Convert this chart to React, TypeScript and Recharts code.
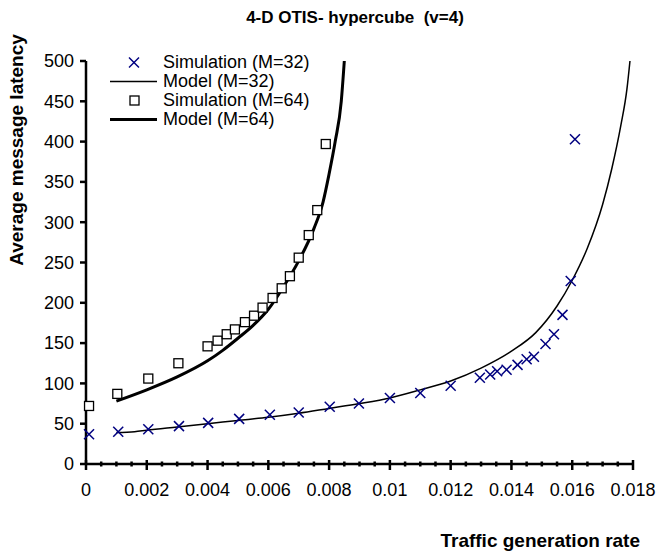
import React from 'react';
import { ComposedChart, Line, Scatter, XAxis, YAxis } from 'recharts';

const FONT = '"Liberation Sans", Arial, sans-serif';

// Simulation M=32 (x markers)
const sim32X = [0.0001, 0.00106, 0.00205, 0.00306, 0.00402, 0.00504, 0.00605, 0.007, 0.00802, 0.00898, 0.0100, 0.0110, 0.0120, 0.01296, 0.0133, 0.01353, 0.01384, 0.0142, 0.0145, 0.01474, 0.01512, 0.0154, 0.01568, 0.01595, 0.01609];
const sim32Y = [37, 40, 43, 47, 51, 56, 61, 64, 71, 75, 82, 88, 97, 107, 111, 115, 117, 123, 130, 133, 149, 161, 185, 227, 403];

// Model M=32 (thin line)
const model32X = [0.001, 0.0016, 0.002, 0.003, 0.004, 0.005, 0.006, 0.007, 0.008, 0.009, 0.010, 0.011, 0.012, 0.013, 0.014, 0.0148, 0.0155, 0.016, 0.0165, 0.017, 0.0173, 0.0176, 0.0178, 0.0179];
const model32Y = [39, 40, 42, 46, 50, 54, 58, 63, 69, 75, 82, 92, 103, 119, 140, 163, 196, 228, 268, 322, 366, 420, 465, 500];

// Simulation M=64 (squares)
const sim64X = [0.0001, 0.00103, 0.00205, 0.00304, 0.004, 0.00433, 0.00463, 0.0049, 0.00523, 0.00553, 0.00581, 0.00614, 0.00644, 0.00671, 0.007, 0.00733, 0.00761, 0.00789];
const sim64Y = [72, 87, 106, 125, 146, 153, 161, 167, 176, 184, 194, 206, 218, 233, 256, 284, 315, 397];

// Model M=64 (thick line)
const model64X = [0.001, 0.002, 0.003, 0.004, 0.0045, 0.005, 0.0055, 0.006, 0.0065, 0.007, 0.0075, 0.0078, 0.008, 0.0082, 0.0084, 0.0085];
const model64Y = [78, 92, 108, 128, 141, 156, 172, 192, 220, 252, 292, 325, 360, 400, 450, 500];

const xTickLabels = ['0', '0.002', '0.004', '0.006', '0.008', '0.01', '0.012', '0.014', '0.016', '0.018'];
const yTicks = [0, 50, 100, 150, 200, 250, 300, 350, 400, 450, 500];

const zip = (xs: number[], ys: number[]) => xs.map((x, i) => ({ x, y: ys[i] }));
const sim32 = zip(sim32X, sim32Y);
const model32 = zip(model32X, model32Y);
const sim64 = zip(sim64X, sim64Y);
const model64 = zip(model64X, model64Y);

const xMinorTicks = Array.from({ length: 37 }, (_, i) => i * 0.0005);

const XMarker = (props: any) => {
  const { cx, cy } = props;
  if (cx == null || cy == null) return null;
  const r = 5;
  return (
    <g>
      <line x1={cx - r} y1={cy - r} x2={cx + r} y2={cy + r} stroke="#000080" strokeWidth={1.5} />
      <line x1={cx - r} y1={cy + r} x2={cx + r} y2={cy - r} stroke="#000080" strokeWidth={1.5} />
    </g>
  );
};

const SquareMarker = (props: any) => {
  const { cx, cy } = props;
  if (cx == null || cy == null) return null;
  return <rect x={cx - 4.5} y={cy - 4.5} width={9} height={9} fill="#fff" stroke="#000" strokeWidth={1.3} />;
};

const XTick = (props: any) => {
  const { x, y, payload } = props;
  const idx = Math.round(payload.value / 0.0005);
  const major = idx % 4 === 0;
  return (
    <g>
      <line x1={x} y1={major ? y - 4 : y - 2.5} x2={x} y2={major ? y + 6 : y + 2.5} stroke="#000" strokeWidth={2.5} />
      {major && (
        <text x={x} y={y + 32} textAnchor="middle" fontSize={18} fontFamily={FONT} fill="#000">
          {xTickLabels[idx / 4]}
        </text>
      )}
    </g>
  );
};

const LegendRow = ({ kind, label }: { kind: string; label: string }) => (
  <div style={{ display: 'flex', alignItems: 'center', height: 19 }}>
    <svg width={58} height={19} style={{ display: 'block' }}>
      {kind === 'x' && (
        <g>
          <line x1={24} y1={4.5} x2={34} y2={14.5} stroke="#000080" strokeWidth={1.5} />
          <line x1={24} y1={14.5} x2={34} y2={4.5} stroke="#000080" strokeWidth={1.5} />
        </g>
      )}
      {kind === 'sq' && <rect x={25} y={5} width={9} height={9} fill="#fff" stroke="#000" strokeWidth={1.3} />}
      {kind === 'thin' && <line x1={5} y1={9.5} x2={52} y2={9.5} stroke="#000" strokeWidth={1.5} />}
      {kind === 'thick' && <line x1={5} y1={9.5} x2={52} y2={9.5} stroke="#000" strokeWidth={3} />}
    </svg>
    <span style={{ fontFamily: FONT, fontSize: 18, color: '#000', lineHeight: '19px', whiteSpace: 'nowrap' }}>{label}</span>
  </div>
);

export default function App() {
  return (
    <div style={{ position: 'absolute', left: 0, top: 0, width: 658, height: 555, background: '#fff' }}>
      <ComposedChart width={658} height={555} margin={{ top: 61, right: 25, bottom: 61, left: 0 }}>
        <XAxis
          dataKey="x"
          type="number"
          domain={[0, 0.018]}
          ticks={xMinorTicks}
          interval={0}
          tick={<XTick />}
          tickLine={false}
          tickSize={0}
          tickMargin={0}
          height={30}
          axisLine={{ stroke: '#000', strokeWidth: 2.5 }}
        />
        <YAxis
          type="number"
          domain={[0, 500]}
          ticks={yTicks}
          interval={0}
          width={86}
          tickSize={6}
          tickMargin={6}
          tickLine={{ stroke: '#000', strokeWidth: 2.5 }}
          axisLine={{ stroke: '#000', strokeWidth: 2.5 }}
          tick={{ fill: '#000', fontSize: 18, fontFamily: FONT }}
        />
        <Line data={model32} dataKey="y" type="monotone" stroke="#000" strokeWidth={1.5} dot={false} isAnimationActive={false} />
        <Line data={model64} dataKey="y" type="monotone" stroke="#000" strokeWidth={3} dot={false} isAnimationActive={false} />
        <Scatter data={sim32} dataKey="y" shape={<XMarker />} isAnimationActive={false} />
        <Scatter data={sim64} dataKey="y" shape={<SquareMarker />} isAnimationActive={false} />
      </ComposedChart>
      <div style={{ position: 'absolute', left: 0, width: 710, top: 8, textAlign: 'center', fontFamily: FONT, fontWeight: 'bold', fontSize: 17, color: '#000' }}>
        4-D OTIS- hypercube&nbsp;&nbsp;(v=4)
      </div>
      <div style={{ position: 'absolute', left: 17, top: 150, width: 0, height: 0 }}>
        <div style={{ position: 'absolute', transform: 'translate(-50%, -50%) rotate(-90deg)', fontFamily: FONT, fontWeight: 'bold', fontSize: 19, whiteSpace: 'nowrap', color: '#000' }}>
          Average message latency
        </div>
      </div>
      <div style={{ position: 'absolute', right: 18, top: 530, fontFamily: FONT, fontWeight: 'bold', fontSize: 19, color: '#000', whiteSpace: 'nowrap' }}>
        Traffic generation rate
      </div>
      <div style={{ position: 'absolute', left: 105, top: 53 }}>
        <LegendRow kind="x" label="Simulation (M=32)" />
        <LegendRow kind="thin" label="Model (M=32)" />
        <LegendRow kind="sq" label="Simulation (M=64)" />
        <LegendRow kind="thick" label="Model (M=64)" />
      </div>
    </div>
  );
}
